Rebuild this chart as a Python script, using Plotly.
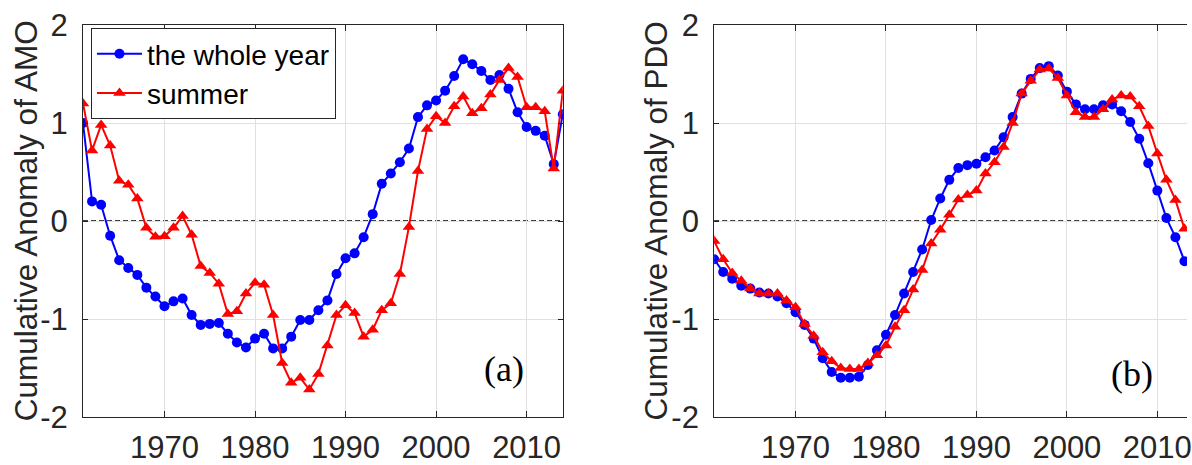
import plotly.graph_objects as go

years = list(range(1961, 2015))

amo_year = [1.00, 0.20, 0.165, -0.15, -0.40, -0.48, -0.55, -0.68, -0.77, -0.87,
            -0.82, -0.79, -0.96, -1.06, -1.05, -1.04, -1.15, -1.24, -1.29, -1.20,
            -1.15, -1.30, -1.30, -1.18, -1.01, -1.01, -0.91, -0.81, -0.54, -0.38,
            -0.33, -0.165, 0.07, 0.38, 0.485, 0.60, 0.74, 1.06, 1.18, 1.23,
            1.33, 1.48, 1.65, 1.60, 1.53, 1.44, 1.49, 1.35, 1.11, 0.96,
            0.92, 0.87, 0.58, 1.09]
amo_summer = [1.20, 0.72, 0.98, 0.77, 0.41, 0.37, 0.23, -0.07, -0.16, -0.155,
              -0.07, 0.05, -0.14, -0.46, -0.53, -0.64, -0.95, -0.92, -0.74, -0.63,
              -0.65, -0.96, -1.45, -1.65, -1.60, -1.72, -1.56, -1.27, -0.96, -0.86,
              -0.94, -1.18, -1.11, -0.91, -0.84, -0.54, -0.06, 0.51, 0.94, 1.07,
              1.00, 1.17, 1.27, 1.10, 1.15, 1.29, 1.44, 1.56, 1.47, 1.16,
              1.16, 1.12, 0.535, 1.33]

pdo_years = list(range(1961, 2014))
pdo_year = [-0.39, -0.52, -0.59, -0.66, -0.69, -0.73, -0.74, -0.77, -0.84, -0.93,
            -1.06, -1.20, -1.40, -1.54, -1.60, -1.60, -1.59, -1.47, -1.32, -1.16,
            -0.96, -0.74, -0.52, -0.29, 0.01, 0.23, 0.42, 0.54, 0.57, 0.585,
            0.65, 0.72, 0.855, 1.06, 1.30, 1.45, 1.56, 1.58, 1.485, 1.32,
            1.19, 1.14, 1.14, 1.18, 1.19, 1.12, 1.01, 0.84, 0.59, 0.31,
            0.03, -0.165, -0.41]
pdo_summer = [-0.205, -0.39, -0.53, -0.61, -0.69, -0.74, -0.74, -0.74, -0.81, -0.88,
              -1.05, -1.17, -1.34, -1.43, -1.50, -1.51, -1.51, -1.45, -1.37, -1.27,
              -1.08, -0.91, -0.70, -0.50, -0.23, -0.09, 0.065, 0.22, 0.265, 0.31,
              0.485, 0.60, 0.755, 1.00, 1.30, 1.43, 1.545, 1.555, 1.46, 1.28,
              1.11, 1.06, 1.06, 1.14, 1.24, 1.28, 1.27, 1.17, 0.97, 0.69,
              0.42, 0.215, -0.08]

x_ticks = [1970, 1980, 1990, 2000, 2010]
y_ticks = [-2, -1, 0, 1, 2]
y_ticktext = ["-2", "-1", "0", "1", "2"]
series_names = ["the whole year", "summer"]
ytitles = ["Cumulative Anomaly of AMO", "Cumulative Anomaly of PDO"]
panel_labels = ["(a)", "(b)"]

BLUE = "#0000ff"
RED = "#ff0000"
AX = "#262626"
GRID = "#e0e0e0"
FONT = "Arial, Liberation Sans, sans-serif"
FS = 31
FS_TITLE = 31.5

W, H = 1192, 465
ML, MR, MT, MB = 83, 0, 25, 43
pw = W - ML - MR
ph = H - MT - MB

def px_x(p):
    return (p - ML) / pw

def px_y(p):
    return 1 - (p - MT) / ph

fig = go.Figure()

blue_style = dict(mode="lines+markers", line=dict(color=BLUE, width=2),
                  marker=dict(symbol="circle", size=10, color=BLUE))
red_style = dict(mode="lines+markers", line=dict(color=RED, width=2),
                 marker=dict(symbol="triangle-up", size=11, color=RED))

fig.add_trace(go.Scatter(x=years, y=amo_year, name=series_names[0], xaxis="x", yaxis="y", **blue_style))
fig.add_trace(go.Scatter(x=years, y=amo_summer, name=series_names[1], xaxis="x", yaxis="y", **red_style))
fig.add_trace(go.Scatter(x=pdo_years, y=pdo_year, name=series_names[0], showlegend=False, xaxis="x2", yaxis="y2", **blue_style))
fig.add_trace(go.Scatter(x=pdo_years, y=pdo_summer, name=series_names[1], showlegend=False, xaxis="x2", yaxis="y2", **red_style))

common_x = dict(tickvals=x_ticks, ticks="inside", ticklen=6, tickcolor=AX, tickwidth=1,
                showgrid=True, gridcolor=GRID, gridwidth=1, zeroline=False,
                showline=True, linecolor=AX, linewidth=1, mirror="ticks",
                ticklabeloverflow="allow",
                tickfont=dict(family=FONT, size=FS, color=AX), ticklabelstandoff=3)
common_y = dict(range=[-2, 2], tickvals=y_ticks, ticktext=y_ticktext, ticks="inside", ticklen=5,
                tickcolor=AX, tickwidth=1,
                showgrid=True, gridcolor=GRID, gridwidth=1, zeroline=False,
                showline=True, linecolor=AX, linewidth=1,
                tickfont=dict(family=FONT, size=FS, color=AX), ticklabelstandoff=8)

fig.update_layout(
    width=W, height=H, margin=dict(l=ML, r=MR, t=MT, b=MB),
    paper_bgcolor="white", plot_bgcolor="white",
    xaxis=dict(domain=[0, px_x(565)], range=[1961, 2014], **common_x),
    yaxis=dict(domain=[0, 1], mirror="ticks", **common_y),
    xaxis2=dict(domain=[px_x(717), 1.0], range=[1961, 2013.28], anchor="y2", **common_x),
    yaxis2=dict(domain=[0, 1], anchor="x2", mirror=False, **common_y),
    showlegend=True,
    legend=dict(x=px_x(91), y=px_y(28), xanchor="left", yanchor="top",
                bordercolor=AX, borderwidth=1, bgcolor="white",
                font=dict(family=FONT, size=28, color="black"),
                itemwidth=45, tracegroupgap=0),
)

for xr, yr in [("x domain", "y"), ("x2 domain", "y2")]:
    fig.add_shape(type="line", xref=xr, yref=yr, x0=0, x1=1, y0=0, y1=0,
                  line=dict(color="black", width=1.5, dash="5px,3px"), layer="below")

fig.add_annotation(text=ytitles[0], xref="paper", yref="paper", x=px_x(26), y=0.5,
                   textangle=-90, showarrow=False, xanchor="center", yanchor="middle",
                   font=dict(family=FONT, size=FS_TITLE, color=AX))
fig.add_annotation(text=ytitles[1], xref="paper", yref="paper", x=px_x(659), y=0.5,
                   textangle=-90, showarrow=False, xanchor="center", yanchor="middle",
                   font=dict(family=FONT, size=FS_TITLE, color=AX))
fig.add_annotation(text=panel_labels[0], xref="paper", yref="paper", x=px_x(506), y=px_y(373),
                   showarrow=False, xanchor="center", yanchor="middle",
                   font=dict(family="Liberation Serif, Times New Roman, serif", size=36, color="black"))
fig.add_annotation(text=panel_labels[1], xref="paper", yref="paper", x=px_x(1137), y=px_y(378),
                   showarrow=False, xanchor="center", yanchor="middle",
                   font=dict(family="Liberation Serif, Times New Roman, serif", size=36, color="black"))

fig.write_html("out.html")
